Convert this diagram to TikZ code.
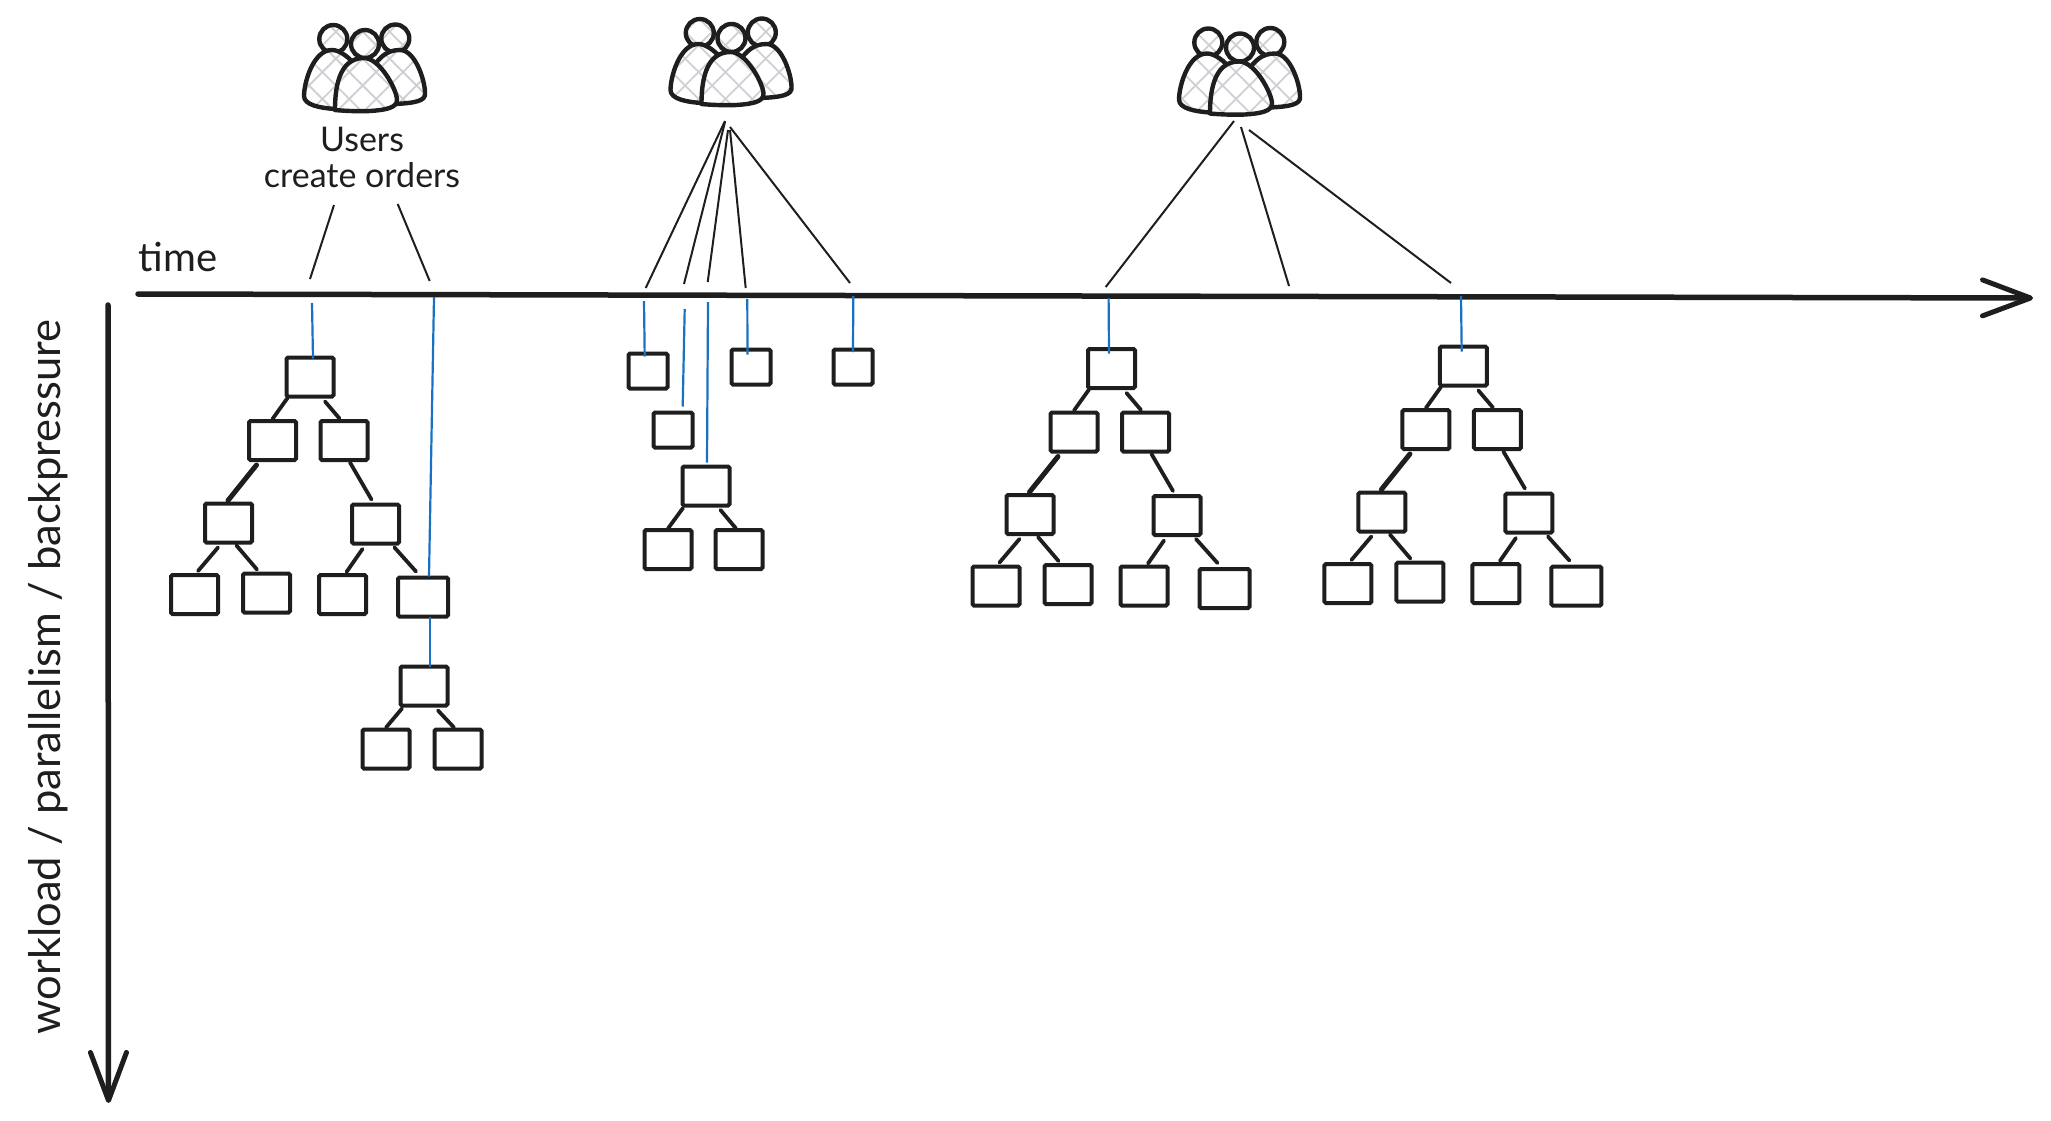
\documentclass[tikz,border=0pt]{standalone}
\usepackage{xcolor}
\usepackage{fontspec}
\setmainfont{Lato}
\usepackage{tikz}
\usetikzlibrary{positioning,arrows.meta,patterns.meta}
\definecolor{dInk}{RGB}{30,30,30}
\definecolor{dBlue}{RGB}{25,113,194}
\definecolor{dHatch}{RGB}{205,208,212}
\tikzset{
  task/.style={rectangle, rounded corners=1.5pt, draw=dInk, line width=4pt,
               minimum width=47pt, minimum height=39pt, inner sep=0pt, outer sep=0pt},
  taskw/.style={task, minimum width=50pt},
  tasks/.style={task, minimum width=39pt, minimum height=35pt},
  crowd/.style={rectangle, minimum width=124pt, minimum height=72pt, inner sep=0pt, outer sep=0pt},
  hatched/.style={draw=dInk, line width=4.4pt, line join=round,
    preaction={fill=white},
    preaction={pattern={Lines[angle=45,distance=19pt,line width=1.8pt]}, pattern color=dHatch},
    preaction={pattern={Lines[angle=-45,distance=19pt,line width=1.8pt]}, pattern color=dHatch}},
  link/.style={draw=dInk, line width=3.8pt, line cap=round},
  linkb/.style={link, line width=5pt},
  request/.style={draw=dInk, line width=2pt},
  trace/.style={draw=dBlue, line width=2.2pt},
  axis/.style={draw=dInk, line width=5.5pt, line cap=round,
    -{Straight Barb[length=48pt,width=36pt,line width=5pt,round]}},
  lbl/.style={text=dInk, inner sep=0pt, align=center},
}
\newcommand{\Link}[5][link]{%
  \draw[#1] ([shift={(#3)}]#2.south) -- ([shift={(#5)}]#4.north);}
\newcommand{\Request}[3]{%
  \draw[request] ([shift={(#2)}]#1.south) -- (#3);}
\newcommand{\Trace}[3]{%
  \draw[trace] (#1) -- ([shift={(#3)}]#2.north);}
\newcommand{\Users}[2]{%
  \node[crowd] (#1) at (#2) {};
  \begin{scope}[shift={(#2)}]
    \draw[hatched] (-31.7,-36) circle[radius=14];
    \draw[hatched] (30.3,-36.5) circle[radius=14];
    \draw[hatched] (-30,34) .. controls (-45,33) and (-61,30) .. (-61,21)
      .. controls (-61,8) and (-52,-25) .. (-33,-25)
      .. controls (-25,-25) and (-15,-17) .. (-8,-8) -- (-20,25) -- cycle;
    \draw[hatched] (8,-8) .. controls (15,-18) and (22,-25) .. (35,-25)
      .. controls (50,-25) and (60,5) .. (60,18)
      .. controls (61,26) and (50,28) .. (30,29) -- (10,20) -- cycle;
    \draw[hatched] (0,-31) circle[radius=14];
    \draw[hatched] (-30,35) .. controls (-30,15) and (-27,-17) .. (-1,-17)
      .. controls (15,-17) and (32,15) .. (32,25)
      .. controls (32,33) and (20,35) .. (5,36)
      .. controls (-5,36.5) and (-20,36) .. (-30,35) -- cycle;
  \end{scope}}
\newcommand{\TaskTree}[2]{%
  \node[task] (#1) at (#2) {};
  \node[task, below=24.5pt of #1, xshift=-37.5pt] (#1l) {};
  \node[task, below=24.5pt of #1, xshift=34pt] (#1r) {};
  \node[task, below=43.5pt of #1l, xshift=-44pt] (#1ll) {};
  \node[task, below=44.5pt of #1r, xshift=31.5pt] (#1lr) {};
  \node[task, below=32.5pt of #1ll, xshift=-34pt] (#1lll) {};
  \node[task, below=31pt of #1ll, xshift=38pt] (#1llr) {};
  \node[task, below=31.5pt of #1lr, xshift=-33pt] (#1lrl) {};
  \node[taskw, below=34pt of #1lr, xshift=47.5pt] (#1lrr) {};
  \Link{#1}{-22.5,1.5}{#1l}{0,-2}
  \Link{#1}{15,5}{#1r}{-4.5,-2.5}
  \Link[linkb]{#1l}{-16,5}{#1ll}{-0.5,-3}
  \Link{#1r}{6,2.5}{#1lr}{-4,-5}
  \Link{#1ll}{-10.5,5}{#1lll}{3.5,-4}
  \Link{#1ll}{8,3}{#1llr}{-9.5,-4}
  \Link{#1lr}{-13,5.5}{#1lrl}{4,-3}
  \Link{#1lr}{19,4}{#1lrr}{-7,-6}}

\begin{document}
\begin{tikzpicture}[x=1pt, y=-1pt]
  \useasboundingbox (0,0) rectangle (2051,1120);
  \foreach \n/\x/\y in {ra1/310/279, ra2/429.7/281,
      rb1/645.7/288, rb2/684/284, rb3/707.7/282, rb4/745.7/288, rb5/850/283,
      rc1/1105.7/287, rc2/1289/286, rc3/1451/283,
      ba1/312/303, ba2/434/297,
      bb1/644/301, bb2/684.7/309, bb3/708/302, bb4/747.3/299, bb5/853.3/296,
      bc1/1108.6/298, bc2/1461/296,
      timea/138/294, timeb/2033/298, loada/108/305, loadb/108.5/1103}
    \coordinate (\n) at (\x,\y);

  \draw[axis] (timea) -- (timeb);
  \draw[axis] (loada) -- (loadb);
  \node[lbl, font=\fontsize{40}{44}\selectfont] (timelbl) at (178,257) {time};
  \node[lbl, rotate=90, font=\fontsize{43.5}{48}\selectfont] (loadlbl) at (48,677)
    {workload / parallelism / backpressure};

  \Users{usersa}{365,75}
  \Users{usersb}{731.5,69}
  \Users{usersc}{1240,78.5}
  \node[lbl, font=\fontsize{34}{36}\selectfont] (userslbl) at (362,157)
    {Users\\create orders};

  \TaskTree{ta}{310,377}
  \node[task, below=50pt of talrr, xshift=1pt] (tas) {};
  \node[task, below=24pt of tas, xshift=-38pt] (tasl) {};
  \node[task, below=24pt of tas, xshift=34pt] (tasr) {};
  \Link{tas}{-22,3}{tasl}{0,-2}
  \Link{tas}{14,5}{tasr}{-4,-2}

  \node[tasks] (ma) at (648,371) {};
  \node[tasks, below=24pt of ma, xshift=25pt] (mb) {};
  \node[task, below=19pt of mb, xshift=33pt] (mc) {};
  \node[task, below=24.5pt of mc, xshift=-38pt] (mcl) {};
  \node[task, below=24.5pt of mc, xshift=33pt] (mcr) {};
  \node[tasks, right=64pt of ma, yshift=4pt] (md) {};
  \node[tasks, right=63pt of md] (me) {};
  \Link{mc}{-23,2.5}{mcl}{0,-1.5}
  \Link{mc}{14.5,4.5}{mcr}{-3,-1.5}

  \TaskTree{tb}{1111.5,368.5}
  \TaskTree{tc}{1463.4,366}

  \Request{usersa}{-31,94}{ra1}
  \Request{usersa}{32.7,93}{ra2}
  \Request{usersb}{-6.5,16}{rb1}
  \Request{usersb}{-6.5,17}{rb2}
  \Request{usersb}{-3.5,25}{rb3}
  \Request{usersb}{-1.5,25}{rb4}
  \Request{usersb}{-1.5,22}{rb5}
  \Request{usersc}{-6,6.5}{rc1}
  \Request{usersc}{1,12.5}{rc2}
  \Request{usersc}{9,15.5}{rc3}

  \Trace{ba1}{ta}{3,1}
  \Trace{ba2}{talrr}{6,-1}
  \draw[trace] ([xshift=7pt]talrr.south) -- ([xshift=6pt]tas.north);
  \Trace{bb1}{ma}{-3.3,3}
  \Trace{bb2}{mb}{9.7,-6}
  \Trace{bb3}{mc}{1,-4}
  \Trace{bb4}{md}{-3.5,5}
  \Trace{bb5}{me}{0,2.5}
  \Trace{bc1}{tb}{-2.5,4.5}
  \Trace{bc2}{tc}{-1.7,5}
\end{tikzpicture}
\end{document}
